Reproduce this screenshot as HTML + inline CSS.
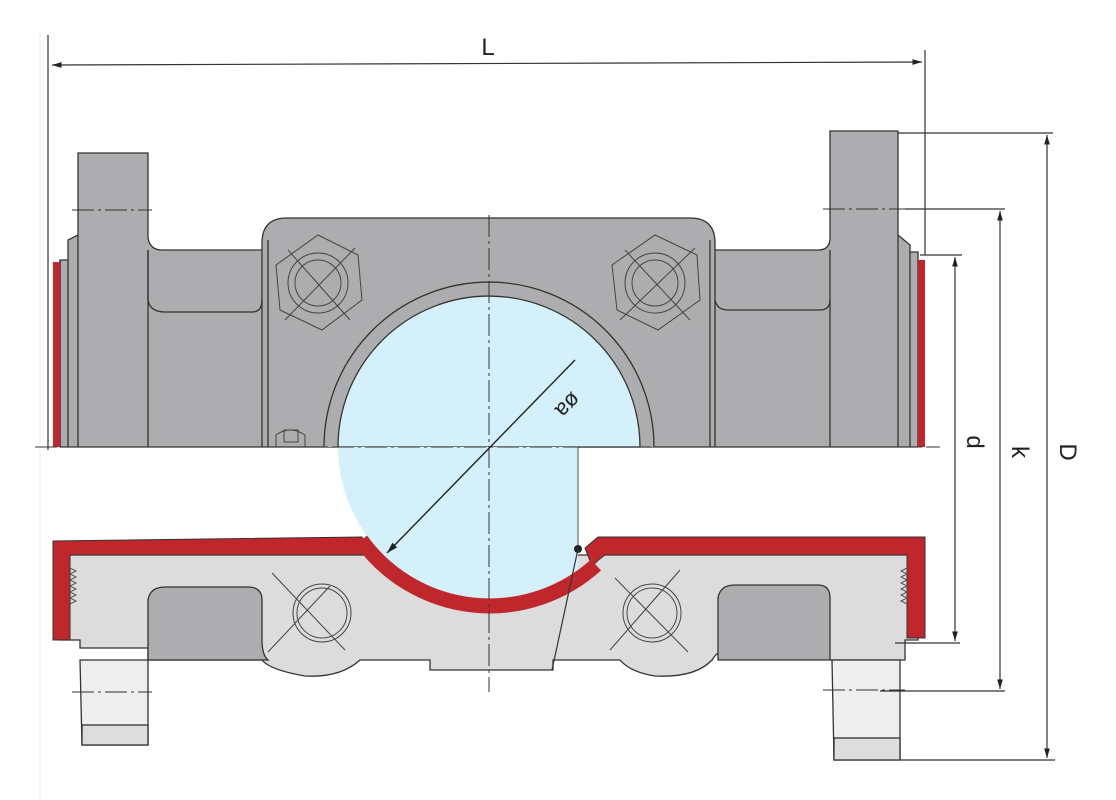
<!DOCTYPE html>
<html><head><meta charset="utf-8"><style>
html,body{margin:0;padding:0;background:#fff;}
svg{display:block;}
text{font-family:"Liberation Sans",sans-serif;fill:#222;}
</style></head><body>
<svg width="1116" height="800" viewBox="0 0 1116 800" xmlns="http://www.w3.org/2000/svg">
<defs>
<marker id="ar" viewBox="0 0 10 10" refX="10" refY="5" markerWidth="8" markerHeight="8" orient="auto-start-reverse"><path d="M0,2 L10,5 L0,8 z" fill="#222"/></marker>
</defs>
<line x1="40" y1="30" x2="40" y2="800" stroke="#eee" stroke-width="1"/>
<g stroke="#333" stroke-width="1.3">
<path d="M78,153 H148 V238 Q150,250 162,250 H262 V243 Q262,218 287,218 H690 Q715,218 715,243 V250 H818 Q830,250 830,238 V131 H898 V235 L910,245 V252 H918 V447 H60 V260 H68 V240 L78,235 Z" fill="#adadaf"/>
<path d="M148,250 V300 Q150,312 165,312 H252 Q262,312 262,300" fill="none"/>
<path d="M715,300 Q717,310 728,310 H820 Q830,310 830,300" fill="none"/>
<line x1="148" y1="250" x2="148" y2="447"/><line x1="262" y1="250" x2="262" y2="447"/>
<line x1="268" y1="240" x2="268" y2="447"/><line x1="710" y1="240" x2="710" y2="447"/>
<line x1="715" y1="250" x2="715" y2="447"/><line x1="830" y1="250" x2="830" y2="447"/>
<line x1="898" y1="235" x2="898" y2="447"/><line x1="910" y1="252" x2="910" y2="447"/>
<line x1="68" y1="260" x2="68" y2="447"/><line x1="78" y1="235" x2="78" y2="447"/>
<line x1="60" y1="447" x2="60" y2="260"/>
<path d="M324,447 A165,165 0 0 1 654,447" fill="#adadaf"/>
<path d="M60,555 H918 V640 H905 V660 H830 Q820,650 780,648 H730 Q718,650 712,660 Q695,678 655,676 Q630,672 620,660 H553 V670 H430 V660 H360 Q340,678 305,676 Q270,670 262,660 H148 V648 L80,648 V640 H60 Z" fill="#dcdcdc"/>
<path d="M148,660 V600 Q150,587 165,587 H248 Q262,587 262,600 V640 Q262,655 268,660 H148 Z" fill="#adadaf"/>
<path d="M718,660 V598 Q720,585 735,585 H818 Q830,585 830,598 V660 Z" fill="#adadaf"/>
<path d="M80,660 H148 V745 H82 Z" fill="#eeeeee"/>
<rect x="82" y="725" width="66" height="20" fill="#dddddd"/>
<path d="M832,660 H900 V760 H834 Z" fill="#eeeeee"/>
<rect x="834" y="738" width="66" height="22" fill="#dddddd"/>
</g>
<rect x="53" y="262" width="7" height="185" fill="#c0272d"/>
<rect x="918" y="260" width="7" height="187" fill="#c0272d"/>
<rect x="42" y="448" width="880" height="90" fill="#fff"/>
<path d="M338,447 A151,151 0 0 1 640,447 Z" fill="#d4f0fa" stroke="#333" stroke-width="1.3"/>
<path d="M338,447 A151,151 0 0 0 578,569 V447 Z" fill="#d4f0fa"/>
<g fill="#c0272d" stroke="#333" stroke-width="1">
<path d="M53,541 L362,537 L368,555 H70 V640 H53 Z"/>
<path d="M585,548 L598,537 H925 V638 H907 V555 H605 Q598,560 592,566 Z"/>
</g>
<path d="M361,540 A158.5,158.5 0 0 0 596,565" fill="none" stroke="#c0272d" stroke-width="15"/>
<line x1="578" y1="447" x2="578" y2="548" stroke="#555" stroke-width="1"/>
<g stroke="#555" stroke-width="1" fill="none">
<path d="M70,568 l6,3 -6,3 6,3 -6,3 6,3 -6,3 6,3 -6,3 6,3 -6,3 6,3 -6,3"/>
<path d="M907,568 l-6,3 6,3 -6,3 6,3 -6,3 6,3 -6,3 6,3 -6,3 6,3 -6,3 6,3"/>
</g>
<circle cx="578" cy="549" r="4" fill="#222"/>
<line x1="578" y1="549" x2="552" y2="670" stroke="#333" stroke-width="1.2"/>
<g stroke="#444" stroke-width="1" fill="none">
<polygon points="318,235 358,255 362,300 322,330 280,310 276,265"/>
<circle cx="318" cy="283" r="30"/><circle cx="318" cy="283" r="23"/>
<line x1="288" y1="250" x2="350" y2="320"/><line x1="285" y1="320" x2="355" y2="248"/>
<polygon points="655,235 697,255 700,300 658,330 617,310 612,265"/>
<circle cx="655" cy="283" r="30"/><circle cx="655" cy="283" r="23"/>
<line x1="625" y1="250" x2="690" y2="320"/><line x1="620" y1="320" x2="695" y2="248"/>
<circle cx="322" cy="613" r="29"/><circle cx="322" cy="613" r="25"/>
<line x1="272" y1="573" x2="345" y2="650"/><line x1="268" y1="652" x2="330" y2="586"/>
<circle cx="652" cy="613" r="29"/><circle cx="652" cy="613" r="25"/>
<line x1="615" y1="578" x2="688" y2="652"/><line x1="610" y1="650" x2="680" y2="570"/>
<path d="M276,447 V435 Q290,425 305,435 V447"/><rect x="284" y="430" width="14" height="12"/>
</g>
<g stroke="#333" stroke-width="1" stroke-dasharray="22,4,3,4">
<line x1="489" y1="215" x2="489" y2="692"/>
<line x1="35" y1="447" x2="940" y2="447"/>
<line x1="72" y1="210" x2="152" y2="210"/>
<line x1="72" y1="692" x2="152" y2="692"/>
<line x1="823" y1="209" x2="905" y2="209"/>
<line x1="823" y1="690" x2="905" y2="690"/>
</g>
<line x1="575" y1="360" x2="387" y2="553" stroke="#222" stroke-width="1.4" marker-end="url(#ar)"/>
<text x="563" y="400" font-size="22" transform="rotate(135 563 400)" text-anchor="middle">øa</text>
<g stroke="#333" stroke-width="1.2" fill="none">
<line x1="48" y1="35" x2="48" y2="450"/>
<line x1="925" y1="50" x2="925" y2="255"/>
<line x1="52" y1="65" x2="922" y2="62" marker-start="url(#ar)" marker-end="url(#ar)"/>
<line x1="898" y1="133" x2="1053" y2="133"/>
<line x1="900" y1="760" x2="1055" y2="760"/>
<line x1="1047" y1="135" x2="1047" y2="758" marker-start="url(#ar)" marker-end="url(#ar)"/>
<line x1="905" y1="209" x2="1005" y2="209"/>
<line x1="880" y1="691" x2="1005" y2="691"/>
<line x1="1000" y1="211" x2="1000" y2="689" marker-start="url(#ar)" marker-end="url(#ar)"/>
<line x1="920" y1="255" x2="962" y2="255"/>
<line x1="895" y1="643" x2="960" y2="643"/>
<line x1="955" y1="257" x2="955" y2="641" marker-start="url(#ar)" marker-end="url(#ar)"/>
</g>
<text x="488" y="55" font-size="24" text-anchor="middle">L</text>
<text x="1060" y="452" font-size="24" transform="rotate(90 1060 452)" text-anchor="middle">D</text>
<text x="1012" y="452" font-size="24" transform="rotate(90 1012 452)" text-anchor="middle">k</text>
<text x="967" y="442" font-size="24" transform="rotate(90 967 442)" text-anchor="middle">d</text>
</svg>
</body></html>
